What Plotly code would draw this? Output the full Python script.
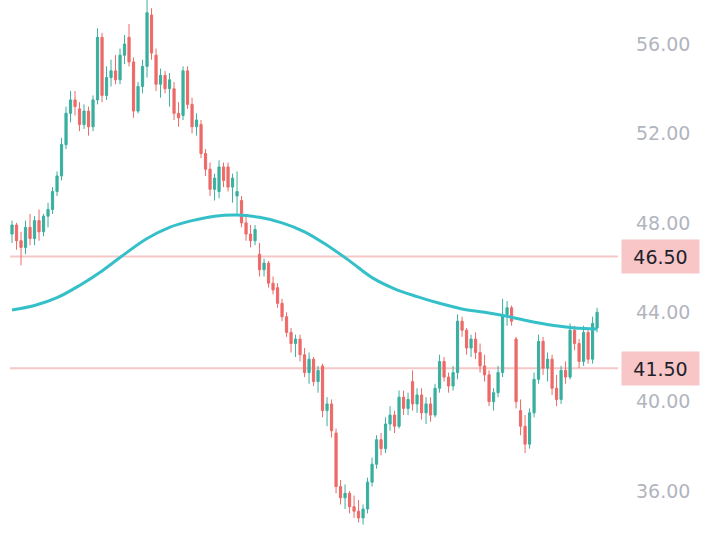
import plotly.graph_objects as go

# candle index (one per session)
idx = list(range(131))

opens = [47.5,47.9,47.2,46.9,47.8,47.3,48.1,47.6,48.3,48.6,
         49.4,50.1,51.5,52.9,53.5,53.1,52.4,53.0,52.3,53.5,
         56.3,53.7,54.5,54.8,54.4,55.5,56.3,55.2,53.0,54.1,
         55.0,57.3,55.5,54.2,54.6,54.0,54.0,52.9,52.8,54.8,
         53.3,52.3,52.4,51.1,50.4,49.5,49.4,50.5,50.5,49.6,
         49.2,49.0,48.0,47.5,47.2,46.6,45.9,46.2,45.3,45.1,
         44.4,43.8,43.1,42.6,42.8,42.1,41.3,41.9,40.9,41.6,
         39.6,39.9,38.6,36.2,35.7,35.9,35.3,35.1,34.8,35.2,
         36.4,37.2,38.3,37.9,39.0,39.4,38.9,40.2,39.7,40.9,
         39.9,40.3,39.5,39.9,39.4,40.6,41.8,41.1,40.7,41.3,
         43.6,43.2,42.4,42.8,42.2,41.6,41.2,40.0,40.4,41.3,
         43.9,44.2,42.8,39.6,38.9,38.1,39.5,41.0,42.7,41.5,
         41.9,40.6,40.1,41.4,41.1,43.2,42.6,41.8,43.1,41.9,
         43.3]
highs = [48.1,48.0,47.6,48.1,48.4,48.3,48.6,48.4,48.9,49.6,
         50.3,51.8,53.2,53.9,53.9,53.4,53.3,53.2,53.7,56.7,
         56.5,55.0,55.3,55.5,55.8,56.4,56.9,55.4,54.3,55.3,
         58.0,57.6,55.8,54.9,54.8,54.7,54.3,53.4,55.0,55.0,
         53.6,52.9,52.6,51.3,50.7,50.2,50.8,50.7,50.7,50.2,
         50.3,49.2,48.3,47.9,47.9,47.1,46.4,46.3,45.6,45.3,
         44.6,44.0,43.3,43.0,43.0,42.4,42.2,42.0,41.6,41.7,
         40.2,40.1,38.8,36.5,36.3,36.0,35.8,35.6,35.4,36.6,
         37.5,38.5,38.6,39.3,39.8,39.6,40.5,40.5,40.4,41.4,
         40.6,40.6,40.2,40.2,40.8,42.1,42.0,41.3,41.6,43.9,
         43.8,43.3,43.0,43.1,42.6,42.1,41.4,40.6,41.6,44.6,
         44.5,44.3,42.9,40.1,39.4,39.7,41.3,43.0,42.9,42.2,
         42.1,41.2,41.6,41.8,43.5,43.4,42.8,43.4,43.3,43.8,
         44.2]
lows = [47.1,46.8,46.1,46.6,47.0,47.0,47.2,47.4,47.8,48.4,
        49.2,49.9,51.3,52.5,52.8,52.1,52.2,51.9,52.1,53.3,
        53.4,53.5,54.1,54.2,54.2,55.1,55.0,52.7,52.9,53.8,
        54.5,55.3,53.9,53.6,53.8,53.2,52.6,52.3,52.6,53.1,
        52.0,51.9,50.9,50.1,49.2,49.0,49.1,49.6,49.4,48.9,
        48.4,47.8,47.2,46.9,47.0,45.6,45.6,45.1,44.8,44.2,
        43.6,42.9,42.2,42.0,41.8,41.1,40.8,40.7,40.4,39.3,
        38.9,38.4,35.9,35.4,35.2,35.0,34.8,34.6,34.5,35.0,
        36.2,37.0,37.6,37.7,38.7,38.6,38.8,39.4,39.4,39.6,
        39.5,39.2,39.0,39.1,39.3,40.4,40.9,40.4,40.5,41.0,
        42.9,42.1,42.0,41.9,41.3,40.9,39.8,39.6,40.2,41.1,
        43.4,43.4,39.7,38.5,37.7,37.9,39.3,40.8,41.2,40.9,
        40.3,39.8,39.9,40.8,41.0,42.3,41.5,41.6,41.7,41.7,
        43.1]
closes = [47.9,47.2,46.9,47.8,47.3,48.1,47.6,48.3,48.6,49.4,
          50.1,51.5,52.9,53.5,53.2,52.4,53.0,52.3,53.5,56.3,
          53.7,54.5,54.8,54.4,55.5,56.0,55.2,53.0,54.1,55.0,
          57.4,55.6,54.2,54.6,54.0,54.4,52.9,52.7,54.8,53.3,
          52.3,52.6,51.1,50.4,49.5,50.0,50.5,49.9,49.6,50.0,
          49.4,48.0,47.5,47.2,47.7,45.9,46.2,45.3,45.0,44.4,
          43.8,43.1,42.6,42.8,42.1,41.3,41.9,40.9,41.4,39.6,
          39.9,38.7,36.2,35.7,35.9,35.3,35.1,34.8,35.2,36.4,
          37.2,38.3,37.9,39.0,39.4,38.9,40.2,39.7,40.1,39.9,
          40.3,39.5,39.9,39.4,40.6,41.8,41.1,40.7,41.3,43.6,
          43.2,42.4,42.8,42.2,41.6,41.2,40.0,40.4,41.3,43.9,
          44.2,43.6,40.0,38.9,38.1,39.5,41.0,42.7,41.5,41.9,
          40.6,40.1,41.4,41.1,43.2,42.6,41.8,43.1,41.9,43.5,
          44.0]

# moving average read at sample indices
ma_idx = [0,5,10,15,20,24,30,35,40,45,50,55,60,65,70,75,80,85,90,95,100,105,110,115,120,125,130]
ma_val = [44.1,44.3,44.65,45.2,45.85,46.45,47.3,47.8,48.1,48.3,48.35,48.25,48.0,47.6,47.0,46.3,45.55,45.05,44.7,44.4,44.15,44.0,43.82,43.6,43.42,43.3,43.25]

# horizontal levels
levels = [46.50, 41.50]
tick_vals = [36, 40, 44, 48, 52, 56]
tick_text = ["36.00", "40.00", "44.00", "48.00", "52.00", "56.00"]

fig = go.Figure()

fig.add_trace(go.Candlestick(
    x=idx, open=opens, high=highs, low=lows, close=closes,
    increasing=dict(line=dict(color="#3aaf9f", width=1), fillcolor="#3aaf9f"),
    decreasing=dict(line=dict(color="#ec6a68", width=1), fillcolor="#ec6a68"),
    whiskerwidth=0, showlegend=False, hoverinfo="skip",
))

fig.add_trace(go.Scatter(
    x=ma_idx, y=ma_val, mode="lines",
    line=dict(color="#35c0c9", width=3, shape="spline", smoothing=1.0),
    showlegend=False, hoverinfo="skip",
))

for lv in levels:
    fig.add_shape(type="line", xref="paper", x0=0, x1=1, yref="y", y0=lv, y1=lv,
                  line=dict(color="#f6c7c7", width=2), layer="below")
    fig.add_annotation(xref="paper", x=1, xanchor="left", xshift=3,
                       yref="y", y=lv, yanchor="middle",
                       text=f"{lv:.2f}", showarrow=False,
                       font=dict(family="DejaVu Sans", size=19, color="#1e222d"),
                       bgcolor="#f8c6c6", borderpad=5, width=67, height=23, align="center")

fig.update_layout(
    width=709, height=534,
    margin=dict(l=10, r=91, t=0, b=0),
    paper_bgcolor="white", plot_bgcolor="white",
    xaxis=dict(range=[-0.45, 134.65], visible=False, rangeslider=dict(visible=False),
               showgrid=False, zeroline=False, fixedrange=True),
    yaxis=dict(range=[34.08, 57.97], side="right", showgrid=False, zeroline=False,
               tickvals=tick_vals, ticktext=tick_text, ticks="",
               ticklabelstandoff=17,
               tickfont=dict(family="DejaVu Sans", size=19, color="#b2b5be"),
               showline=False, fixedrange=True),
)

fig.write_html("out.html", config={"displayModeBar": False},
               post_script="document.body.style.margin='0px';")
